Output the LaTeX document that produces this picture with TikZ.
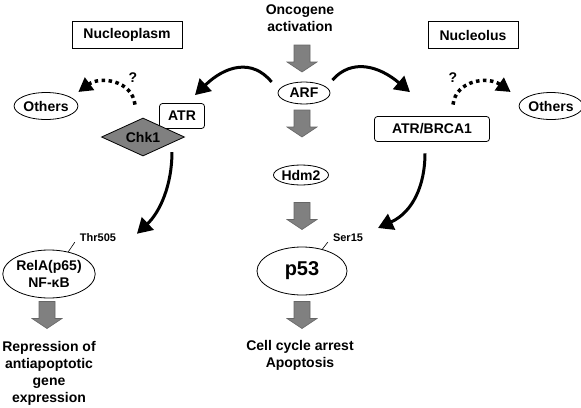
\documentclass[tikz,border=0pt]{standalone}
\usepackage{fontspec}
\setmainfont{Liberation Sans}
\usetikzlibrary{shapes.geometric,arrows.meta}

\definecolor{grigio}{gray}{0.5}

\begin{document}
\begin{tikzpicture}[x=1pt, y=-1pt,
    every node/.style={font=\bfseries\fontsize{14}{17}\selectfont, inner sep=0pt},
    riquadro/.style={draw, line width=0.8pt, minimum height=27pt},
    scatola/.style={draw, fill=white, line width=0.8pt, rounded corners=3pt, minimum height=25pt},
    ovale/.style={draw, ellipse, line width=0.8pt},
    sito/.style={font=\bfseries\fontsize{11}{13}\selectfont},
    curva/.style={line width=3pt, -{Triangle[length=15pt,width=17pt]}},
    puntini/.style={line width=3.5pt, dash pattern=on 3.5pt off 3.5pt, -{Triangle[length=14pt,width=15pt]}},
    frecciagrigia/.pic={\draw[fill=grigio, draw=black!60, line width=0.6pt]
        (-8,-13.5) -- (8,-13.5) -- (8,3.5) -- (15,3.5) -- (0,13.5) -- (-15,3.5) -- (-8,3.5) -- cycle;}]

    \useasboundingbox (0,0) rectangle (581,407);

    % Compartimenti
    \node[riquadro, minimum width=110pt] (nplasma) at (127,35) {Nucleoplasm};
    \node[riquadro, minimum width=90pt]  (nolo)    at (473,35) {Nucleolus};

    % Colonna centrale
    \node[align=center] (onc) at (300,18) {Oncogene\\activation};
    \node[ovale, minimum width=52pt, minimum height=22pt] (arf) at (304,93)  {ARF};
    \node[ovale, minimum width=46pt, minimum height=20pt] (hdm) at (301,175) {Hdm2};
    \node[ovale, minimum width=90pt, minimum height=48pt,
          font=\bfseries\fontsize{20}{24}\selectfont] (p53) at (302,271) {p53};
    \node[align=center] (esito) at (300,355) {Cell cycle arrest\\Apoptosis};

    % Ramo sinistro
    \node[scatola, minimum width=45pt] (atr) at (182,116) {ATR};
    \node[diamond, draw, fill=grigio, line width=0.8pt, aspect=2.2,
          minimum width=83pt, minimum height=38pt] (chk) at (143,137) {Chk1};
    \node[ovale, minimum width=58pt, minimum height=27pt] (altriL) at (46,106) {Others};
    \node[ovale, minimum width=92pt, minimum height=48pt, align=center] (rela) at (49,274) {RelA(p65)\\NF-κB};
    \node[align=center] (repr) at (49,373) {Repression of\\antiapoptotic\\gene\\expression};

    % Ramo destro
    \node[scatola, minimum width=115pt] (atrb) at (432,129) {ATR/BRCA1};
    \node[ovale, minimum width=58pt, minimum height=27pt] (altriR) at (551,106) {Others};

    % Siti di fosforilazione
    \node[sito] (thr) at (98,238)  {Thr505};
    \node[sito] (ser) at (348,238) {Ser15};
    \draw[line width=0.6pt] (rela.49) -- ([xshift=-5pt]thr.south west);
    \draw[line width=0.6pt] (p53.47)  -- ([xshift=-5pt]ser.south west);

    % Frecce grigie
    \pic at (302,58.5) {frecciagrigia};
    \pic at (302,123.5) {frecciagrigia};
    \pic at (302,216) {frecciagrigia};
    \pic at (302,315) {frecciagrigia};
    \pic at (47,315) {frecciagrigia};

    % Frecce curve
    \draw[curva]
        ([xshift=-6pt,yshift=11pt]arf.west) .. controls (252,58) and (225,66) .. ([xshift=13pt,yshift=8pt]atr.north);

    \draw[curva]
        ([xshift=2pt,yshift=13pt]arf.east) .. controls (352,58) and (379,66) .. ([xshift=-22pt,yshift=24pt]atrb.north);

    \draw[curva]
        ([xshift=8pt,yshift=-5.5pt]chk.south east) .. controls (172,185) and (160,212) .. ([xshift=55pt,yshift=23pt]rela.north east);

    \draw[curva]
        ([xshift=-7pt,yshift=-11.5pt]atrb.south) .. controls (425,185) and (413,212) .. (378,228);

    % Frecce tratteggiate
    \draw[puntini]
        ([xshift=-8pt,yshift=13pt]chk.north) .. controls (132,80) and (100,76) .. ([yshift=14pt]altriL.east);

    \draw[puntini]
        ([xshift=21pt,yshift=11.5pt]atrb.north) .. controls (456,80) and (488,76) .. ([xshift=-8pt,yshift=14pt]altriR.west);

    \node (qL) at (133,78) {?};
    \node (qR) at (453,78) {?};

\end{tikzpicture}
\end{document}
